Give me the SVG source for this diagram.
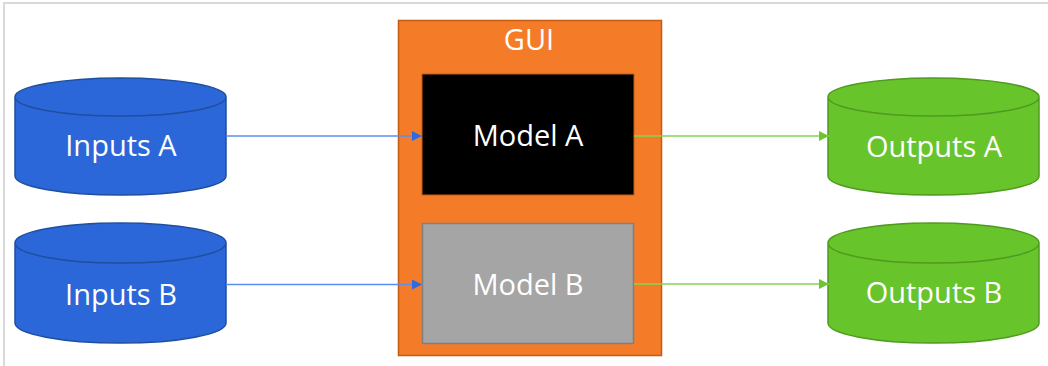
<svg xmlns="http://www.w3.org/2000/svg" width="1048" height="366" viewBox="0 0 1048 366">
<defs>
<style>
.lbl{font-family:"Open Sans","Noto Sans",sans-serif;font-size:29px;fill:#ffffff;text-anchor:middle}
.cylB{fill:#2b67d8;stroke:#1f4f9e;stroke-width:1.5}
.cylG{fill:#68c42b;stroke:#4f9a20;stroke-width:1.5}
.cb{fill:none;stroke:#5b8ef0;stroke-width:1.5}
.cg{fill:none;stroke:#86d455;stroke-width:1.5}
</style>
<marker id="ab" markerWidth="10" markerHeight="10" refX="10" refY="5" orient="auto" markerUnits="userSpaceOnUse"><path d="M0,0 L10,5 L0,10 z" fill="#2e6be0"/></marker>
<marker id="ag" markerWidth="10" markerHeight="10" refX="10" refY="5" orient="auto" markerUnits="userSpaceOnUse"><path d="M0,0 L10,5 L0,10 z" fill="#6cc630"/></marker>
</defs>
<rect width="1048" height="366" fill="#ffffff"/>
<rect x="4" y="3" width="1060" height="380" fill="none" stroke="#d9d9d9" stroke-width="2"/>
<g id="gui">
<rect x="398.5" y="20.5" width="263" height="335" fill="#f47c28" stroke="#c55a11" stroke-width="1.5"/>
<text class="lbl" x="529" y="50">GUI</text>
</g>
<g id="modelA">
<rect x="422" y="74" width="212" height="121" fill="#000000" stroke="#c55a11" stroke-width="1"/>
<text class="lbl" x="528" y="146">Model A</text>
</g>
<g id="modelB">
<rect x="422.5" y="223.5" width="211" height="120" fill="#a5a5a5" stroke="#7f7f7f" stroke-width="1.5"/>
<text class="lbl" x="528" y="295">Model B</text>
</g>
<g id="inputsA">
<path class="cylB" d="M15,97 v79 a105.5,19 0 0 0 211,0 v-79 a105.5,19 0 0 0 -211,0 z M15,97 a105.5,19 0 0 0 211,0"/>
<text class="lbl" x="121" y="156">Inputs A</text>
</g>
<g id="inputsB">
<path class="cylB" d="M15,243 v80 a105.5,20 0 0 0 211,0 v-80 a105.5,20 0 0 0 -211,0 z M15,243 a105.5,20 0 0 0 211,0"/>
<text class="lbl" x="121" y="305">Inputs B</text>
</g>
<g id="outputsA">
<path class="cylG" d="M828,97 v79 a105.5,19 0 0 0 211,0 v-79 a105.5,19 0 0 0 -211,0 z M828,97 a105.5,19 0 0 0 211,0"/>
<text class="lbl" x="934" y="157">Outputs A</text>
</g>
<g id="outputsB">
<path class="cylG" d="M828,243 v80 a105.5,20 0 0 0 211,0 v-80 a105.5,20 0 0 0 -211,0 z M828,243 a105.5,20 0 0 0 211,0"/>
<text class="lbl" x="934" y="303">Outputs B</text>
</g>
<g id="connectors">
<line class="cb" x1="226" y1="136" x2="422" y2="136" marker-end="url(#ab)"/>
<line class="cb" x1="226" y1="284.5" x2="422" y2="284.5" marker-end="url(#ab)"/>
<line class="cg" x1="634" y1="136" x2="829" y2="136" marker-end="url(#ag)"/>
<line class="cg" x1="634" y1="284" x2="829" y2="284" marker-end="url(#ag)"/>
</g>
</svg>
